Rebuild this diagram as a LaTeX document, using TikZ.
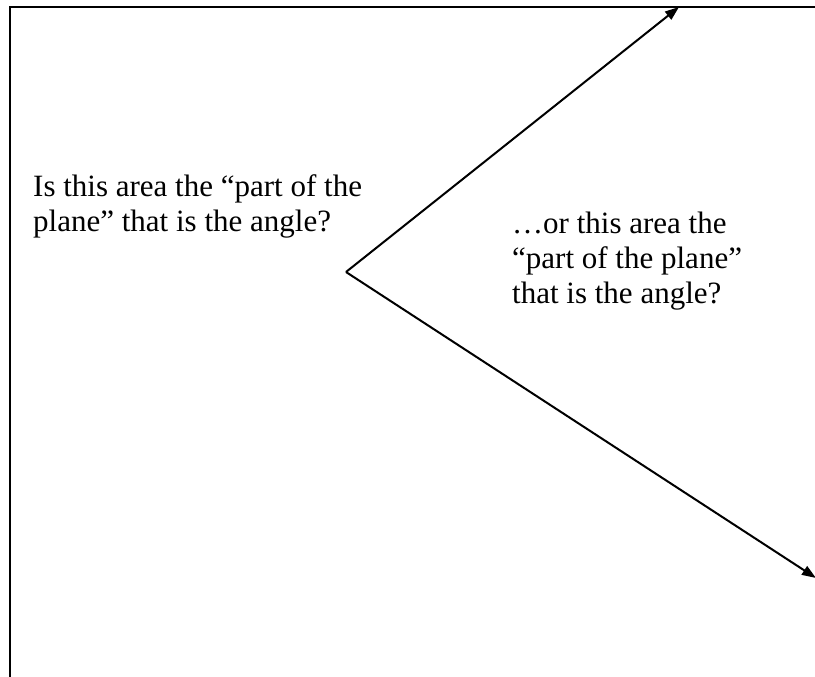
\documentclass[tikz,border=0pt]{standalone}
\usepackage{fontspec}
\setmainfont{Liberation Serif}
\usetikzlibrary{arrows.meta}

\begin{document}
\begin{tikzpicture}[x=1pt, y=-1pt,
    every node/.style={font=\fontsize{31}{35}\selectfont, inner sep=0pt, align=left},
    ray/.style={line width=2pt, -{Triangle[length=14pt,width=10pt]}}]
  \useasboundingbox (0,0) rectangle (815,677);
  \coordinate (V) at (346,272); \coordinate (T) at (679,7); \coordinate (B) at (816,578);
  % frame
  \draw[line width=2.5pt] (10,677) -- (10,7) -- (815,7);
  % the two rays
  \draw[ray] (V) -- (T);
  \draw[ray] (V) -- (B);
  % base anchor sits on the last line
  \node[anchor=base west] (leftq) at (33,231) {Is this area the “part of the\\plane” that is the angle?};
  \node[anchor=base west] (rightq) at (512,303) {\ldots or this area the\\“part of the plane”\\that is the angle?};
\end{tikzpicture}
\end{document}
